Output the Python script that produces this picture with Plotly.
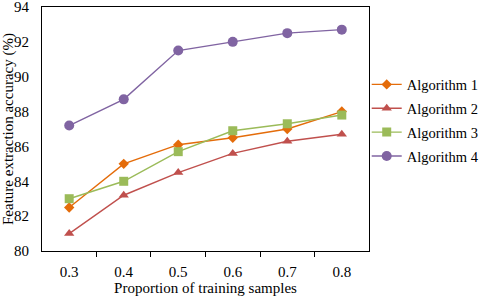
import plotly.graph_objects as go

x_vals = [0.3, 0.4, 0.5, 0.6, 0.7, 0.8]
alg1 = [82.5, 85.0, 86.1, 86.5, 87.0, 88.0]
alg2 = [81.0, 83.2, 84.5, 85.6, 86.3, 86.7]
alg3 = [83.0, 84.0, 85.7, 86.9, 87.3, 87.8]
alg4 = [87.2, 88.7, 91.5, 92.0, 92.5, 92.7]
names = ["Algorithm 1", "Algorithm 2", "Algorithm 3", "Algorithm 4"]
x_tick_labels = ["0.3", "0.4", "0.5", "0.6", "0.7", "0.8"]
y_ticks = [80, 82, 84, 86, 88, 90, 92, 94]

colors = ["#E46C0A", "#C0504D", "#9BBB59", "#8064A2"]
symbols = ["diamond", "triangle-up", "square", "circle"]
sizes = [8, 9, 9, 10]

fig = go.Figure()
for name, ys, c, s, sz in zip(names, [alg1, alg2, alg3, alg4], colors, symbols, sizes):
    fig.add_trace(go.Scatter(
        x=x_vals, y=ys, name=name, mode="lines+markers", legendgroup=name,
        line=dict(color=c, width=1.4),
        marker=dict(symbol=s, size=sz, color=c),
    ))

font = "Liberation Serif, Times New Roman, serif"
fig.update_layout(
    width=480, height=296,
    margin=dict(l=42, r=111, t=7, b=45, autoexpand=False),
    paper_bgcolor="white", plot_bgcolor="white",
    font=dict(family=font, size=15, color="black"),
    showlegend=True,
    legend=dict(x=0.993, y=0.535, xanchor="left", yanchor="middle",
                font=dict(family=font, size=14.5, color="black"),
                tracegroupgap=2, itemwidth=30, bgcolor="rgba(0,0,0,0)"),
)
fig.update_xaxes(
    range=[0.2501, 0.8499], automargin=False,
    tickvals=x_vals, ticktext=x_tick_labels,
    ticks="outside", ticklen=7, tickcolor="rgba(0,0,0,0)",
    ticklabeloverflow="allow",
    minor=dict(tick0=0.35, dtick=0.1, ticks="outside", ticklen=5, tickcolor="black", showgrid=False),
    showgrid=False, zeroline=False,
    showline=True, linecolor="black", linewidth=1, mirror=True,
    title=dict(text="Proportion of training samples", font=dict(family=font, size=15), standoff=3),
    tickfont=dict(family=font, size=15),
)
fig.update_yaxes(
    range=[80, 94], tickvals=y_ticks, automargin=False,
    ticks="outside", ticklen=9, tickcolor="rgba(0,0,0,0)",
    ticklabeloverflow="allow",
    showgrid=False, zeroline=False,
    showline=True, linecolor="black", linewidth=1, mirror=True,
    title=dict(text="Feature extraction accuracy (%)", font=dict(family=font, size=15), standoff=3),
    tickfont=dict(family=font, size=15),
)

fig.write_html("out.html", config={"displayModeBar": False},
               post_script="document.body.style.margin='0';")
